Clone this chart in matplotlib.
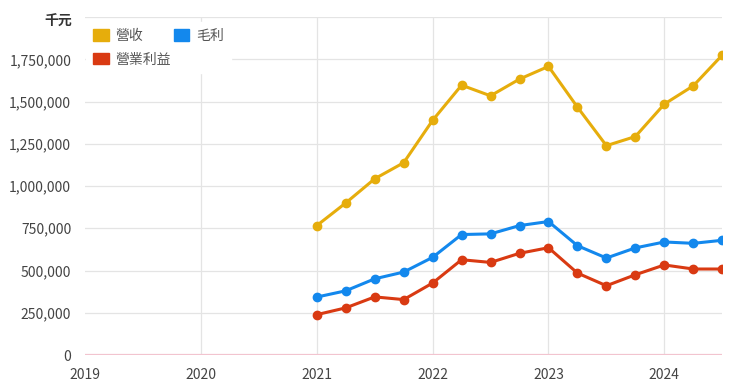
import matplotlib
matplotlib.use("Agg")
import matplotlib.pyplot as plt
from matplotlib.patches import Patch

plt.rcParams["font.family"] = ["Noto Sans CJK TC", "DejaVu Sans"]

quarters = [2021.0, 2021.25, 2021.5, 2021.75, 2022.0, 2022.25, 2022.5, 2022.75,
            2023.0, 2023.25, 2023.5, 2023.75, 2024.0, 2024.25, 2024.5]
revenue = [766000, 900000, 1043000, 1138000, 1389000, 1597000, 1534000, 1633000,
           1708000, 1467000, 1239000, 1293000, 1485000, 1593000, 1775000]
gross_profit = [343000, 380000, 451000, 491000, 578000, 713000, 717000, 766000,
                790000, 647000, 574000, 634000, 669000, 661000, 679000]
operating_income = [239000, 279000, 344000, 328000, 426000, 564000, 548000, 602000,
                    635000, 485000, 410000, 475000, 533000, 509000, 509000]
year_ticks = [2019, 2020, 2021, 2022, 2023, 2024]
y_ticks = [0, 250000, 500000, 750000, 1000000, 1250000, 1500000, 1750000]

c_rev = "#e6ad0c"
c_gp = "#1388ed"
c_op = "#d93a12"

fig = plt.figure(figsize=(7.4, 3.88), dpi=100)
ax = fig.add_axes([0.115, 0.085, 0.861, 0.871])

for y in y_ticks[1:] + [2000000]:
    ax.axhline(y, color="#e4e4e4", linewidth=0.9, zorder=0)
for x in year_ticks[1:]:
    ax.axvline(x, color="#e4e4e4", linewidth=0.9, zorder=0)
ax.axhline(0, color="#f2c4cf", linewidth=1.6, zorder=1)

ax.plot(quarters, revenue, color=c_rev, linewidth=2.2, marker="o", markersize=6, zorder=3)
ax.plot(quarters, gross_profit, color=c_gp, linewidth=2.2, marker="o", markersize=6, zorder=3)
ax.plot(quarters, operating_income, color=c_op, linewidth=2.2, marker="o", markersize=6, zorder=3)

ax.set_xlim(2019, 2024.5)
ax.set_ylim(0, 2000000)
ax.set_xticks(year_ticks)
ax.set_xticklabels([str(y) for y in year_ticks])
ax.set_yticks(y_ticks)
ax.set_yticklabels([f"{v:,}" for v in y_ticks])
ax.tick_params(axis="both", length=0, labelsize=10, colors="#444444")
ax.tick_params(axis="y", pad=10)
ax.tick_params(axis="x", pad=9)
for s in ax.spines.values():
    s.set_visible(False)

fig.text(0.098, 0.945, "千元", ha="right", va="center", fontsize=10,
         fontweight="bold", color="#333333")

handles = [Patch(color=c_rev, label="營收"), Patch(color=c_op, label="營業利益"),
           Patch(color=c_gp, label="毛利")]
leg = ax.legend(handles=handles, ncol=2, loc="upper left", bbox_to_anchor=(0.0, 0.99),
                frameon=True, fontsize=10, handlelength=1.1, handleheight=0.85,
                handletextpad=0.5, columnspacing=0.2, borderaxespad=0.1,
                labelspacing=0.7, fancybox=False, borderpad=0.5)
leg.get_frame().set_edgecolor("white")
leg.get_frame().set_facecolor("white")
leg.get_frame().set_alpha(1)
for t in leg.get_texts():
    t.set_color("#555555")
leg.set_zorder(5)

fig.savefig("out.png", dpi=100, facecolor="white")
